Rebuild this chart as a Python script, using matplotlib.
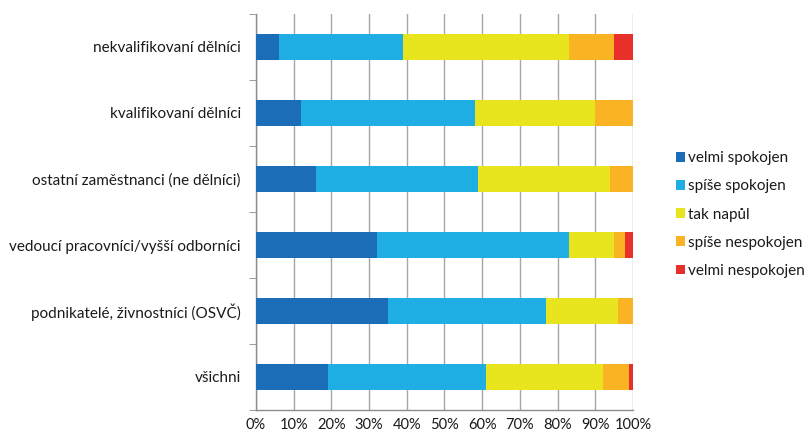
import matplotlib
matplotlib.use("Agg")
import matplotlib.pyplot as plt
import numpy as np
from matplotlib.ticker import FixedLocator, PercentFormatter

plt.rcParams['font.family'] = ['Lato', 'DejaVu Sans']

categories = [
    "nekvalifikovaní dělníci",
    "kvalifikovaní dělníci",
    "ostatní zaměstnanci (ne dělníci)",
    "vedoucí pracovníci/vyšší odborníci",
    "podnikatelé, živnostníci (OSVČ)",
    "všichni",
]
series_names = ["velmi spokojen", "spíše spokojen", "tak napůl",
                "spíše nespokojen", "velmi nespokojen"]
velmi_spokojen = [6, 12, 16, 32, 35, 19]
spise_spokojen = [33, 46, 43, 51, 42, 42]
tak_napul = [44, 32, 35, 12, 19, 31]
spise_nespokojen = [12, 10, 6, 3, 4, 7]
velmi_nespokojen = [5, 0, 0, 2, 0, 1]
colors = ["#1B6DB7", "#1EAEE4", "#E8E41E", "#F9B323", "#E8302A"]

series = [velmi_spokojen, spise_spokojen, tak_napul, spise_nespokojen, velmi_nespokojen]

fig = plt.figure(figsize=(8.12, 4.38), dpi=100)
ax = fig.add_axes([256 / 812, 28 / 438, 377 / 812, 396 / 438])

y = np.arange(len(categories))[::-1]
left = np.zeros(len(categories))
handles = []
for vals, name, col in zip(series, series_names, colors):
    vals = np.array(vals, dtype=float)
    h = ax.barh(y, vals, left=left, height=0.4, color=col, label=name, zorder=3)
    handles.append(h)
    left += vals

ax.set_xlim(0, 100)
ax.set_ylim(-0.5, len(categories) - 0.5)
ax.xaxis.set_major_locator(FixedLocator(np.arange(0, 101, 10)))
ax.xaxis.set_major_formatter(PercentFormatter(decimals=0))
ax.set_yticks(y)
ax.set_yticklabels(categories)
ax.yaxis.set_minor_locator(FixedLocator(np.arange(-0.5, len(categories), 1.0)))
ax.tick_params(axis='y', which='major', length=0, pad=11, labelsize=11, colors='#1A1A1A')
ax.tick_params(axis='y', which='minor', length=5, color='#8C8C8C', direction='out')
ax.tick_params(axis='x', which='major', length=0, pad=6, labelsize=10.5, colors='#1A1A1A')
ax.grid(axis='x', color='#A6A6A6', linewidth=1.0, zorder=0)
for s in ['top', 'right']:
    ax.spines[s].set_visible(False)
for s in ['left', 'bottom']:
    ax.spines[s].set_color('#8C8C8C')
    ax.spines[s].set_linewidth(1.0)

leg = fig.legend(handles=handles, labels=series_names, loc='upper left',
                 bbox_to_anchor=(670 / 812, 1 - 145 / 438), frameon=False,
                 fontsize=11, handlelength=0.6, handleheight=0.6,
                 handletextpad=0.2, labelspacing=0.93, borderaxespad=0)
for t in leg.get_texts():
    t.set_color('#1A1A1A')

fig.savefig("out.png", dpi=100)
